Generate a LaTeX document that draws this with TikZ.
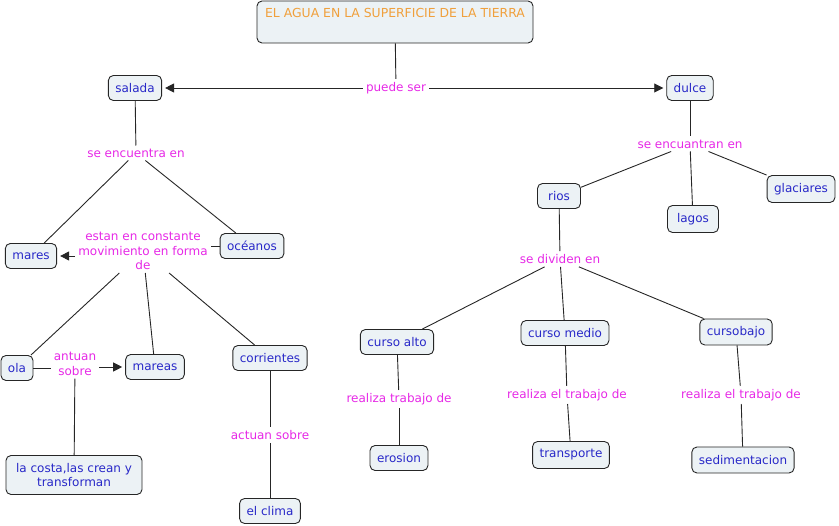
\documentclass[tikz,border=0pt]{standalone}
\usepackage{fontspec}
\setmainfont{DejaVu Sans}
\usetikzlibrary{arrows.meta}
\definecolor{conceptFill}{RGB}{236,242,245}
\definecolor{conceptText}{RGB}{40,40,200}
\definecolor{linkText}{RGB}{230,40,230}
\definecolor{titleText}{RGB}{240,160,60}

\begin{document}
\begin{tikzpicture}[x=1pt, y=-1pt,
  concept/.style={draw=black!85, line width=0.9pt, fill=conceptFill,
    rounded corners=5pt, text=conceptText, inner xsep=7pt,
    minimum height=25pt, align=center,
    font=\fontsize{12}{14}\selectfont},
  linking/.style={text=linkText, inner sep=3pt, align=center,
    font=\fontsize{12}{14.5}\selectfont},
  link/.style={draw=black!85, line width=0.9pt},
  arr/.style={-{Triangle[length=9pt,width=9pt]}, shorten >=3pt}]
  \useasboundingbox (0,0) rectangle (839,526);

  \node[concept, minimum width=276pt, minimum height=42pt, text=titleText, font=\fontsize{12.4}{14}\selectfont] (agua) at (395,22) {EL AGUA EN LA SUPERFICIE DE LA TIERRA\\ \strut};
  \node[linking] (puede) at (396,88) {puede ser};
  \node[concept] (salada) at (135,88) {salada};
  \node[concept] (dulce) at (690,88) {dulce};

  \node[linking] (encuentra) at (136,153) {se encuentra en};
  \node[concept] (mares) at (31,256) {mares};
  \node[concept] (oceanos) at (252,246) {océanos};
  \node[linking] (movimiento) at (143,251) {estan en constante\\movimiento en forma\\de};
  \node[concept] (ola) at (17,368) {ola};
  \node[linking] (antuan) at (75,364) {antuan\\sobre};
  \node[concept] (mareas) at (155,367) {mareas};
  \node[concept] (corrientes) at (270,358) {corrientes};
  \node[concept, minimum height=39pt, minimum width=136pt] (costa) at (74,475) {la costa,las crean y\\transforman};
  \node[linking] (actuan) at (270,435) {actuan sobre};
  \node[concept] (clima) at (270,511) {el clima};

  \node[linking] (encuantran) at (690,144) {se encuantran en};
  \node[concept, minimum width=43pt] (rios) at (559,196) {rios};
  \node[concept, minimum width=51pt, minimum height=27pt] (lagos) at (693,219) {lagos};
  \node[concept, minimum height=27pt] (glaciares) at (801,189) {glaciares};
  \node[linking] (dividen) at (560,259) {se dividen en};
  \node[concept] (alto) at (397,342) {curso alto};
  \node[concept] (medio) at (565,333) {curso medio};
  \node[concept, minimum height=26pt] (bajo) at (736,332) {cursobajo};
  \node[linking] (trabajoA) at (399,399) {realiza trabajo de};
  \node[linking] (trabajoB) at (567,395) {realiza el trabajo de};
  \node[linking] (trabajoC) at (741,395) {realiza el trabajo de};
  \node[concept] (erosion) at (399,458) {erosion};
  \node[concept, minimum height=27pt] (transporte) at (571,455) {transporte};
  \node[concept, minimum height=26pt] (sedimentacion) at (743,460) {sedimentacion};

  \draw[link] (agua) -- (puede);
  \draw[link, arr] (puede) -- (salada);
  \draw[link, arr] (puede) -- (dulce);

  \draw[link] (salada) -- (encuentra);
  \draw[link] (encuentra) -- (mares);
  \draw[link] (encuentra) -- (oceanos);
  \draw[link] (oceanos) -- (movimiento.east |- oceanos);
  \draw[link, arr] (movimiento.west |- mares) -- (mares);
  \draw[link] (movimiento) -- (ola);
  \draw[link] (movimiento) -- (mareas);
  \draw[link] (movimiento) -- (corrientes);
  \draw[link] (ola) -- (antuan.west |- ola);
  \draw[link, arr] (antuan.east |- mareas) -- (mareas);
  \draw[link] (antuan) -- (costa);
  \draw[link] (corrientes) -- (actuan);
  \draw[link] (actuan) -- (clima);

  \draw[link] (dulce) -- (encuantran);
  \draw[link] (encuantran) -- (rios);
  \draw[link] (encuantran) -- (lagos);
  \draw[link] (encuantran) -- (glaciares);
  \draw[link] (rios) -- (dividen);
  \draw[link] (dividen) -- (alto);
  \draw[link] (dividen) -- (medio);
  \draw[link] (dividen) -- (bajo);
  \draw[link] (alto) -- (trabajoA);
  \draw[link] (trabajoA) -- (erosion);
  \draw[link] (medio) -- (trabajoB);
  \draw[link] (trabajoB) -- (transporte);
  \draw[link] (bajo) -- (trabajoC);
  \draw[link] (trabajoC) -- (sedimentacion);
\end{tikzpicture}
\end{document}
